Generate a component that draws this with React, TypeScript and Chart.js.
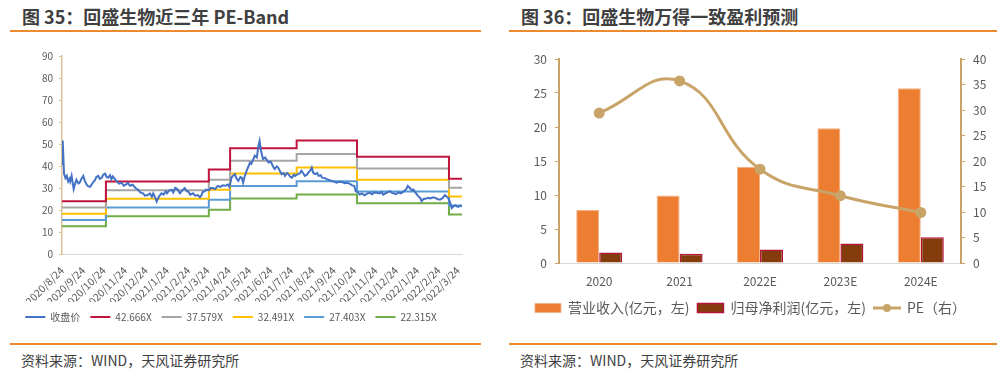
import React, { useEffect, useRef } from "react";
import { Chart, registerables } from "chart.js";

Chart.register(...registerables);

const FONT = "'Noto Sans CJK SC', 'Noto Sans', sans-serif";
const TEXT = "#595959";

// ---------- Left chart: PE-Band ----------
const monthLabels = [
  "2020/8/24", "2020/9/24", "2020/10/24", "2020/11/24", "2020/12/24",
  "2021/1/24", "2021/2/24", "2021/3/24", "2021/4/24", "2021/5/24",
  "2021/6/24", "2021/7/24", "2021/8/24", "2021/9/24", "2021/10/24",
  "2021/11/24", "2021/12/24", "2022/1/24", "2022/2/24", "2022/3/24",
];
const START_UTC = Date.UTC(2020, 7, 24);
const toDay = (s: string) => {
  const [y, m, d] = s.split("/").map(Number);
  return (Date.UTC(y, m - 1, d) - START_UTC) / 86400000;
};
const monthDays = monthLabels.map(toDay);
const X_MAX = 583;

// days since 2020/8/24
const priceDays = [
  0, 1, 3, 5, 7, 9, 11, 12, 14, 16, 17, 19, 21, 24, 26, 28, 31, 33, 36, 38,
  41, 43, 45, 48, 50, 53, 55, 58, 60, 63, 65, 67, 70, 72, 74, 77, 80, 83, 87, 90,
  93, 96, 99, 103, 107, 111, 114, 118, 121, 125, 128, 131, 133, 136, 138, 141, 145, 148, 151, 153,
  156, 160, 162, 165, 168, 172, 175, 179, 182, 184, 187, 191, 194, 198, 201, 203, 205, 208, 210, 214,
  217, 220, 223, 227, 231, 234, 238, 242, 244, 247, 249, 252, 254, 257, 260, 262, 264, 266, 269, 272,
  274, 276, 278, 281, 284, 286, 288, 290, 293, 296, 299, 301, 304, 306, 308, 310, 313, 315, 318, 320,
  323, 325, 328, 330, 333, 335, 338, 340, 342, 344, 347, 349, 352, 354, 357, 359, 362, 364, 366, 369,
  372, 374, 377, 379, 383, 386, 390, 393, 396, 400, 404, 408, 412, 415, 419, 423, 426, 428, 431, 434,
  437, 441, 445, 449, 452, 455, 459, 463, 466, 468, 471, 474, 478, 481, 484, 487, 490, 494, 497, 500,
  502, 504, 507, 510, 512, 515, 519, 522, 524, 527, 531, 534, 537, 541, 544, 547, 551, 555, 558, 561,
  563, 566, 568, 571, 573, 576, 578, 581, 583,
];
const priceValues = [
  40.8, 51.6, 36.4, 34.5, 35.5, 33.0, 34.2, 33.0, 35.5, 31.5, 29.5, 31.8, 33.7, 32.0, 32.5, 34.0, 35.5, 33.5, 31.5, 30.8,
  30.5, 31.5, 32.5, 33.5, 35.0, 35.5, 34.2, 34.7, 36.0, 36.5, 35.0, 34.7, 35.8, 34.0, 35.3, 34.0, 33.0, 32.0, 32.4, 31.0,
  31.5, 32.4, 31.0, 31.5, 30.0, 29.2, 28.0, 27.6, 26.5, 26.8, 27.5, 26.0, 27.6, 25.5, 23.8, 26.0, 27.6, 27.0, 28.5, 27.6,
  28.8, 29.2, 28.0, 30.0, 29.5, 27.6, 28.8, 30.0, 28.5, 28.4, 27.0, 27.6, 26.5, 26.8, 25.8, 26.5, 28.2, 28.5, 29.3, 29.0,
  30.0, 30.0, 29.5, 30.9, 30.5, 31.2, 31.0, 31.6, 30.5, 34.7, 35.5, 36.3, 34.5, 33.2, 35.0, 34.7, 32.4, 35.0, 37.8, 40.0,
  41.6, 41.0, 42.4, 44.7, 43.9, 48.5, 51.3, 47.0, 43.2, 43.9, 42.5, 41.6, 42.0, 40.9, 39.5, 38.6, 39.8, 39.3, 37.5, 36.3,
  36.8, 35.5, 36.8, 36.3, 35.0, 34.7, 36.0, 35.5, 36.0, 36.3, 36.8, 37.8, 36.5, 35.5, 36.0, 37.0, 38.0, 39.3, 37.0, 36.3,
  36.8, 35.5, 35.8, 34.7, 34.5, 34.0, 33.5, 33.2, 33.0, 32.4, 32.8, 32.7, 32.2, 32.4, 32.0, 31.2, 30.9, 28.6, 28.0, 27.0,
  27.5, 26.7, 27.5, 27.8, 27.2, 28.0, 27.8, 27.5, 28.2, 27.0, 27.5, 28.0, 28.6, 27.8, 27.5, 27.2, 28.0, 27.6, 28.2, 29.0,
  29.6, 30.9, 30.0, 29.0, 29.3, 28.0, 26.3, 25.5, 24.0, 25.0, 25.2, 25.5, 25.3, 25.8, 25.5, 25.0, 24.7, 25.5, 26.7, 26.0,
  25.5, 23.0, 20.9, 21.8, 22.1, 21.6, 21.5, 21.9, 21.7,
];

const bandStartDays = [0, 64, 214, 245, 342, 430, 564];
const band42666 = [24.0, 32.9, 38.4, 48.1, 51.6, 44.2, 34.2];
const band37579 = [21.1, 29.0, 33.8, 42.4, 45.4, 38.9, 30.1];
const band32491 = [18.3, 25.1, 29.2, 36.6, 39.3, 33.7, 26.1];
const band27403 = [15.4, 21.1, 24.7, 30.9, 33.1, 28.4, 22.0];
const band22315 = [12.6, 17.2, 20.1, 25.2, 27.0, 23.1, 17.9];

// ---------- Right chart: consensus forecast ----------
const categories = ["2020", "2021", "2022E", "2023E", "2024E"];
const revenue = [7.78, 9.93, 14.14, 19.82, 25.7];
const netProfit = [1.56, 1.37, 2.0, 2.88, 3.77];
const peValues = [29.4, 35.7, 18.4, 13.2, 9.9];

const bandData = (vals: number[]) => [
  ...bandStartDays.map((d, i) => ({ x: d, y: vals[i] })),
  { x: X_MAX, y: vals[vals.length - 1] },
];

function PEBandChart() {
  const ref = useRef<HTMLCanvasElement>(null);
  useEffect(() => {
    const band = (label: string, vals: number[], color: string) => ({
      label,
      data: bandData(vals),
      borderColor: color,
      backgroundColor: color,
      borderWidth: 2,
      pointRadius: 0,
      stepped: true,
    });
    const chart = new Chart(ref.current!, {
      type: "line",
      data: {
        datasets: [
          {
            label: "收盘价",
            data: priceDays.map((d, i) => ({ x: d, y: priceValues[i] })),
            borderColor: "#4472C4",
            backgroundColor: "#4472C4",
            borderWidth: 2,
            pointRadius: 0,
          },
          band("42.666X", band42666, "#C0143C"),
          band("37.579X", band37579, "#A5A5A5"),
          band("32.491X", band32491, "#FFC000"),
          band("27.403X", band27403, "#5B9BD5"),
          band("22.315X", band22315, "#70AD47"),
        ] as any,
      },
      options: {
        animation: false,
        responsive: false,
        layout: { padding: { left: 0, right: 28, top: 20, bottom: 4 } },
        plugins: {
          legend: {
            position: "bottom",
            labels: {
              usePointStyle: true,
              pointStyle: "line",
              pointStyleWidth: 20,
              font: { size: 10, family: FONT },
              color: TEXT,
              padding: 10,
            },
          },
          tooltip: { enabled: false },
        },
        scales: {
          x: {
            type: "linear",
            min: 0,
            max: X_MAX,
            afterBuildTicks: (axis: any) => {
              axis.ticks = monthDays.map((v) => ({ value: v }));
            },
            afterFit: (s: any) => {
              s.height = 48;
            },
            ticks: {
              autoSkip: false,
              minRotation: 45,
              maxRotation: 45,
              padding: 2,
              font: { size: 10.5, family: FONT },
              color: TEXT,
              callback: (_v: any, i: number) => monthLabels[i],
            },
            grid: { display: false },
            border: { color: "#D9D9D9", width: 1 },
          },
          y: {
            min: 0,
            max: 90,
            afterFit: (s: any) => {
              s.width = 62;
            },
            ticks: { stepSize: 10, font: { size: 10, family: FONT }, color: TEXT, padding: 6 },
            grid: { drawOnChartArea: false, tickLength: 3, color: "#DCC29A" },
            border: { color: "#DCC29A", width: 1.5 },
          },
        },
      } as any,
    });
    return () => chart.destroy();
  }, []);
  return (
    <canvas
      ref={ref}
      width={490}
      height={300}
      style={{ position: "absolute", left: 0, top: 36, width: 490, height: 300 }}
    />
  );
}

function ForecastChart() {
  const ref = useRef<HTMLCanvasElement>(null);
  useEffect(() => {
    const tan = "#C9A468";
    const icon = document.createElement("canvas");
    icon.width = 28;
    icon.height = 10;
    const ictx = icon.getContext("2d")!;
    ictx.strokeStyle = tan;
    ictx.lineWidth = 3;
    ictx.beginPath();
    ictx.moveTo(0, 5);
    ictx.lineTo(28, 5);
    ictx.stroke();
    ictx.fillStyle = tan;
    ictx.beginPath();
    ictx.arc(14, 5, 4, 0, Math.PI * 2);
    ictx.fill();

    const chart = new Chart(ref.current!, {
      type: "bar",
      data: {
        labels: categories,
        datasets: [
          {
            type: "bar",
            label: "营业收入(亿元，左)",
            data: revenue,
            backgroundColor: "#ED7D31",
            borderColor: "#F4B183",
            borderWidth: 1,
            yAxisID: "y",
            categoryPercentage: 0.572,
            barPercentage: 1,
            order: 1,
          },
          {
            type: "bar",
            label: "归母净利润(亿元，左)",
            data: netProfit,
            backgroundColor: "#843C0C",
            borderColor: "#B4143A",
            borderWidth: 1.5,
            yAxisID: "y",
            categoryPercentage: 0.572,
            barPercentage: 1,
            order: 1,
          },
          {
            type: "line",
            label: "PE（右）",
            data: peValues,
            borderColor: tan,
            backgroundColor: tan,
            borderWidth: 3,
            pointRadius: 4,
            pointBackgroundColor: tan,
            pointBorderColor: tan,
            tension: 0.45,
            yAxisID: "y1",
            order: 0,
          },
        ] as any,
      },
      options: {
        animation: false,
        responsive: false,
        layout: { padding: { left: 0, right: 6, top: 23, bottom: 15 } },
        plugins: {
          legend: {
            position: "bottom",
            labels: {
              usePointStyle: true,
              pointStyleWidth: 26,
              boxHeight: 9,
              font: { size: 14, family: FONT },
              color: TEXT,
              padding: 8,
              sort: (a: any, b: any) => a.datasetIndex - b.datasetIndex,
              generateLabels: (c: any) => {
                const items = Chart.defaults.plugins.legend.labels.generateLabels(c);
                items.forEach((it: any) => {
                  if (it.datasetIndex === 2) it.pointStyle = icon;
                  else it.pointStyle = "rect";
                });
                return items;
              },
            },
          },
          tooltip: { enabled: false },
        },
        scales: {
          x: {
            afterFit: (s: any) => {
              s.height = 30;
            },
            ticks: { font: { size: 12, family: FONT }, color: TEXT, padding: 3 },
            grid: { display: false },
            border: { color: "#D9D9D9", width: 1 },
          },
          y: {
            position: "left",
            min: 0,
            max: 30,
            afterFit: (s: any) => {
              s.width = 59;
            },
            ticks: { stepSize: 5, font: { size: 12, family: FONT }, color: TEXT, padding: 8 },
            grid: { drawOnChartArea: false, tickLength: 4, color: tan },
            border: { color: tan, width: 2 },
          },
          y1: {
            position: "right",
            min: 0,
            max: 40,
            afterFit: (s: any) => {
              s.width = 40;
            },
            ticks: { stepSize: 5, font: { size: 12, family: FONT }, color: TEXT, padding: 8 },
            grid: { drawOnChartArea: false, tickLength: 4, color: tan },
            border: { color: tan, width: 2 },
          },
        },
      } as any,
    });
    return () => chart.destroy();
  }, []);
  return (
    <canvas
      ref={ref}
      width={507}
      height={304}
      style={{ position: "absolute", left: 500, top: 36, width: 507, height: 304 }}
    />
  );
}

const titleStyle: React.CSSProperties = {
  position: "absolute",
  top: 4,
  fontSize: 18,
  fontWeight: 700,
  color: "#404040",
  whiteSpace: "nowrap",
  lineHeight: "24px",
};
const sourceStyle: React.CSSProperties = {
  position: "absolute",
  top: 351,
  fontSize: 14,
  color: "#404040",
  whiteSpace: "nowrap",
  lineHeight: "18px",
};
const ruleColor = "#EE8A2E";

export default function App() {
  return (
    <div
      style={{
        position: "absolute",
        left: 0,
        top: 0,
        width: 1007,
        height: 377,
        background: "#fff",
        fontFamily: FONT,
        overflow: "hidden",
      }}
    >
      <div style={{ ...titleStyle, left: 22 }}>图 35：回盛生物近三年 PE-Band</div>
      <div style={{ ...titleStyle, left: 521 }}>图 36：回盛生物万得一致盈利预测</div>
      <div style={{ position: "absolute", left: 10, top: 30, width: 471, height: 1.5, background: ruleColor }} />
      <div style={{ position: "absolute", left: 509, top: 30, width: 488, height: 1.5, background: ruleColor }} />
      <PEBandChart />
      <ForecastChart />
      <div style={{ position: "absolute", left: 10, top: 343, width: 471, height: 1.5, background: ruleColor }} />
      <div style={{ position: "absolute", left: 509, top: 343, width: 488, height: 1.5, background: ruleColor }} />
      <div style={{ ...sourceStyle, left: 21 }}>资料来源：WIND，天风证券研究所</div>
      <div style={{ ...sourceStyle, left: 520 }}>资料来源：WIND，天风证券研究所</div>
    </div>
  );
}
